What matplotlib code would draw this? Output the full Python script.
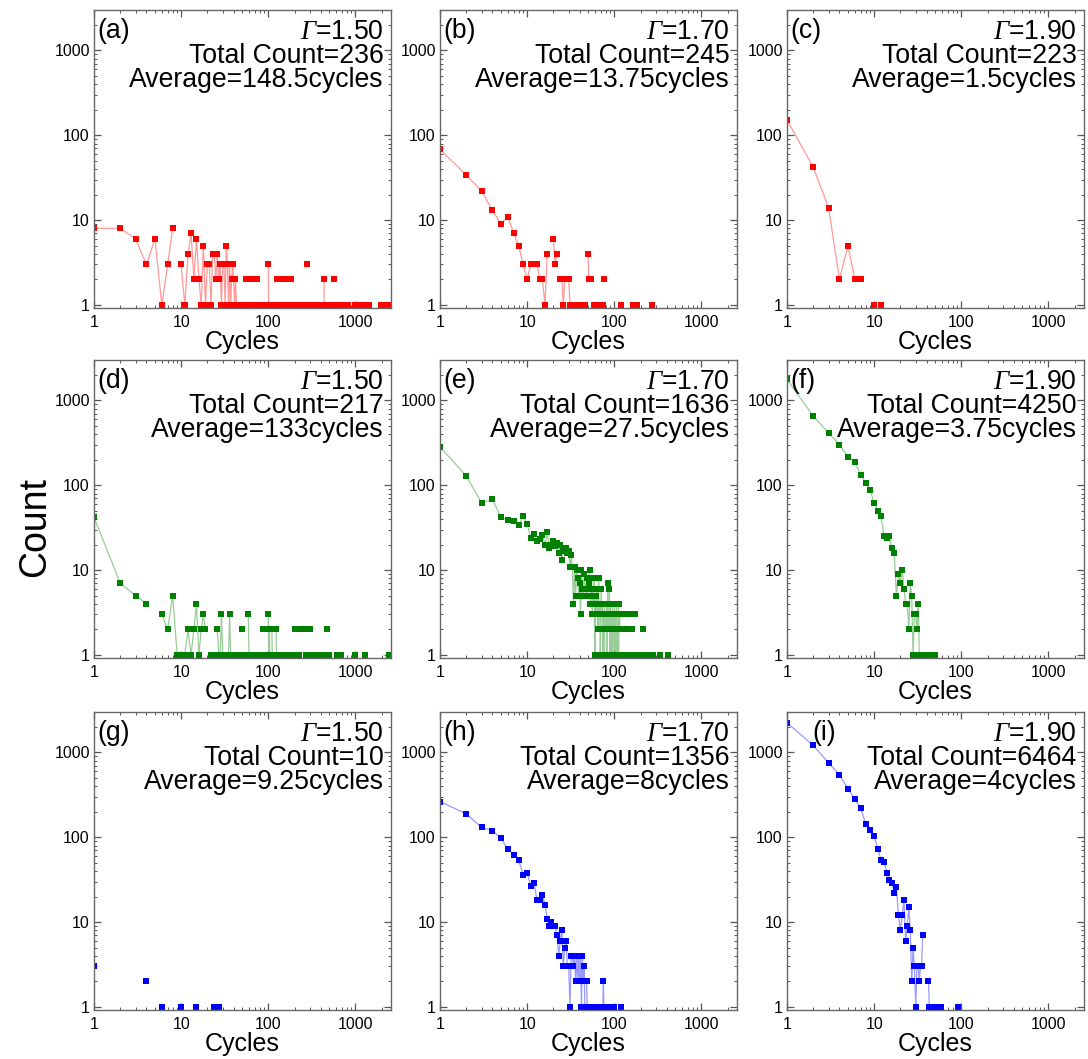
import numpy as np
import matplotlib
matplotlib.use("Agg")
import matplotlib.pyplot as plt
from matplotlib.ticker import LogLocator, FixedLocator, FixedFormatter, NullFormatter

plt.rcParams['font.family'] = ['Liberation Sans', 'DejaVu Sans']
plt.rcParams['mathtext.fontset'] = 'custom'
plt.rcParams['mathtext.rm'] = 'Liberation Sans'
# slanted serif Gamma, taken from the sf slot (the it slot forces capital Greek upright)
plt.rcParams['mathtext.sf'] = 'Liberation Serif:italic'

# cycles -> count, one pair of lists per panel (zero counts left out)
a_x = [1, 2, 3, 4, 5, 6, 7, 8, 10, 11, 12, 13, 14, 15, 16, 17, 18, 19, 20, 21, 22, 23, 24, 25,
       26, 27, 28, 29, 30, 31, 32, 33, 34, 35, 36, 37, 38, 39, 40, 41, 42, 43, 45, 47, 50, 52,
       56, 58, 60, 62, 64, 66, 70, 72, 74, 76, 80, 83, 86, 90, 94, 97, 100, 101, 105, 110, 115,
       120, 125, 130, 135, 140, 150, 160, 165, 170, 180, 190, 200, 210, 220, 235, 250, 265, 278,
       290, 310, 330, 350, 370, 390, 410, 437, 438, 460, 480, 500, 530, 560, 575, 600, 630,
       660, 700, 740, 790, 830, 1000, 1080, 1160, 1230, 1320, 1450, 1950, 2120, 2450]
a_y = [8, 8, 6, 3, 6, 1, 3, 8, 3, 1, 4, 7, 2, 6, 2, 1, 5, 1, 3, 3, 1, 4, 4, 2,
       4, 2, 3, 1, 3, 3, 1, 5, 3, 1, 3, 1, 2, 3, 2, 1, 2, 1, 1, 1, 1, 1,
       2, 1, 2, 1, 2, 1, 2, 1, 2, 1, 1, 1, 1, 1, 1, 1, 3, 1, 1, 1, 1,
       1, 2, 2, 1, 2, 1, 2, 1, 2, 2, 1, 1, 1, 1, 1, 1, 1, 3,
       1, 1, 1, 1, 1, 1, 1, 1, 2, 1, 1, 1, 1, 1, 2, 1, 1,
       1, 1, 1, 1, 1, 1, 1, 1, 1, 1, 1, 1, 1, 1]

b_x = [1, 2, 3, 4, 5, 6, 7, 8, 9, 10, 11, 13, 14, 15, 16, 17, 20, 21, 22, 24, 25, 26, 27, 28,
       29, 30, 31, 32, 33, 34, 35, 36, 37, 38, 40, 41, 42, 44, 46, 50, 51, 52, 54, 58, 60, 62,
       63, 65, 67, 70, 72, 75, 77, 120, 165, 170, 180, 270]
b_y = [68, 34, 22, 13, 9, 11, 7, 5, 3, 2, 3, 3, 2, 2, 1, 4, 6, 3, 4, 2, 2, 1, 2, 2,
       2, 2, 1, 1, 1, 1, 1, 1, 1, 1, 1, 1, 1, 1, 1, 4, 2, 2, 2, 1, 1, 1,
       1, 1, 1, 1, 1, 1, 2, 1, 1, 1, 1, 1]

c_x = [1, 2, 3, 4, 5, 6, 7, 10, 12]
c_y = [152, 42, 14, 2, 5, 2, 2, 1, 1]

d_x = [1, 2, 3, 4, 6, 7, 8, 9, 10, 11, 12, 13, 14, 15, 16, 17, 18, 19, 22, 23, 24, 26, 27, 28,
       29, 30, 31, 32, 33, 34, 35, 36, 37, 38, 40, 42, 44, 46, 50, 52, 55, 59, 60, 62, 65, 68,
       70, 73, 76, 80, 84, 88, 90, 93, 96, 98, 100, 101, 103, 104, 107, 110, 111, 115, 120,
       123, 124, 130, 140, 150, 160, 170, 180, 190, 200, 205, 215, 225, 240, 250, 260, 270,
       280, 290, 300, 310, 330, 350, 370, 390, 420, 470, 500, 620, 650, 680, 990, 1290, 2450]
d_y = [42, 7, 5, 4, 3, 2, 5, 1, 1, 1, 2, 1, 2, 4, 1, 2, 3, 2, 1, 1, 1, 2, 1, 1,
       3, 1, 1, 1, 1, 1, 1, 3, 1, 1, 1, 1, 1, 1, 2, 1, 1, 3, 1, 1, 1, 1,
       1, 1, 1, 1, 1, 2, 1, 2, 1, 2, 3, 1, 2, 1, 1, 2, 1, 1, 1,
       2, 1, 1, 1, 1, 1, 1, 1, 1, 1, 2, 2, 1, 2, 2, 2, 1,
       2, 1, 2, 1, 1, 1, 1, 1, 1, 2, 1, 1, 1, 1, 1, 1, 1]

e_x = [1, 2, 3, 4, 5, 6, 7, 8, 9, 10, 11, 12, 13, 14, 15, 16, 17, 18, 19, 20, 21, 22, 23, 24,
       25, 26, 27, 28, 29, 30, 31, 32, 33, 34, 35, 36, 37, 38, 39, 40, 41, 42, 43, 44, 45, 46,
       47, 48, 49, 50, 51, 52, 53, 54, 55, 56, 57, 58, 59, 60, 61, 62, 63, 64, 65, 66, 67, 68,
       69, 70, 71, 72, 73, 74, 75, 76, 77, 78, 80, 81, 82, 83, 84, 85, 86, 88, 89, 90, 91, 92,
       93, 95, 96, 97, 98, 100, 101, 102, 104, 105, 106, 108, 109, 110, 112, 113, 115, 116,
       118, 120, 122, 124, 126, 128, 130, 132, 135, 138, 140, 142, 145, 148, 150, 152, 155,
       158, 160, 163, 166, 170, 175, 180, 185, 190, 200, 210, 215, 220, 230, 240, 250, 260,
       270, 280, 335, 415]
e_y = [284, 129, 62, 68, 42, 39, 38, 34, 43, 35, 24, 27, 22, 23, 26, 20, 28, 18, 20, 22, 19, 21, 16, 20,
       13, 18, 17, 18, 16, 17, 11, 15, 11, 4, 11, 5, 10, 8, 5, 7, 3, 10, 6, 5, 9, 6,
       5, 8, 5, 6, 7, 10, 4, 5, 8, 3, 6, 4, 8, 1, 5, 3, 6, 4, 2, 8, 3, 4,
       1, 2, 6, 3, 4, 1, 3, 2, 4, 1, 3, 2, 4, 1, 7, 3, 2, 6, 1, 4, 2, 3,
       1, 4, 1, 2, 3, 4, 1, 2, 3, 1, 4, 2, 1, 3, 4, 1, 2, 3,
       1, 3, 1, 2, 3, 1, 2, 1, 3, 1, 2, 1, 3, 1, 2, 1, 3,
       1, 2, 1, 3, 1, 3, 1, 1, 1, 1, 1, 2, 1, 1, 1, 1, 1,
       1, 1, 1, 1]

f_x = [1, 2, 3, 4, 5, 6, 7, 8, 9, 10, 11, 12, 13, 14, 15, 16, 17, 18, 19, 20, 21, 22, 23, 24,
       25, 26, 27, 28, 29, 30, 31, 32, 33, 34, 35, 36, 37, 38, 39, 40, 41, 42, 43, 44, 45, 46,
       48, 50]
f_y = [1770, 653, 415, 302, 216, 187, 134, 107, 87, 62, 50, 43, 25, 24, 25, 18, 16, 5, 9, 7, 10, 6, 4, 4,
       2, 7, 5, 1, 3, 3, 2, 4, 1, 1, 1, 1, 1, 1, 1, 1, 1, 1, 1, 1, 1, 1,
       1, 1]

g_x = [1, 4, 6, 10, 15, 24, 27]
g_y = [3, 2, 1, 1, 1, 1, 1]

h_x = [1, 2, 3, 4, 5, 6, 7, 8, 9, 10, 11, 12, 13, 14, 15, 16, 17, 18, 19, 20, 21, 22, 23, 24,
       25, 26, 27, 28, 29, 30, 31, 32, 33, 34, 35, 36, 37, 38, 39, 40, 41, 42, 43, 44, 45, 46,
       48, 49, 50, 52, 54, 56, 58, 60, 62, 64, 66, 68, 70, 72, 74, 75, 76, 78, 80, 84, 100, 120]
h_y = [264, 189, 131, 120, 97, 73, 62, 54, 36, 38, 27, 29, 18, 18, 21, 16, 11, 9, 10, 9, 9, 7, 4, 6,
       8, 3, 5, 6, 3, 3, 1, 4, 4, 3, 4, 2, 4, 2, 4, 2, 4, 1, 4, 2, 3, 1,
       2, 1, 1, 1, 1, 1, 1, 1, 1, 1, 1, 1, 1, 1, 1, 2, 1, 1, 1, 1, 1, 1]

i_x = [1, 2, 3, 4, 5, 6, 7, 8, 9, 10, 11, 12, 13, 14, 15, 16, 17, 18, 19, 20, 21, 22, 23, 24,
       25, 26, 27, 28, 29, 30, 31, 32, 33, 34, 35, 36, 42, 43, 44, 45, 46, 47, 48, 50, 52, 55,
       58, 92]
i_y = [2240, 1210, 755, 545, 376, 279, 222, 144, 122, 103, 73, 54, 51, 38, 31, 29, 22, 26, 12, 8, 12, 18, 6, 9,
       15, 8, 2, 5, 3, 1, 3, 3, 2, 3, 3, 7, 2, 1, 1, 1, 1, 1, 1, 1, 1, 1,
       1, 1]

series = [(a_x, a_y), (b_x, b_y), (c_x, c_y),
          (d_x, d_y), (e_x, e_y), (f_x, f_y),
          (g_x, g_y), (h_x, h_y), (i_x, i_y)]
panel_tags = ['(a)', '(b)', '(c)', '(d)', '(e)', '(f)', '(g)', '(h)', '(i)']
gammas = ['1.50', '1.70', '1.90'] * 3
total_counts = [236, 245, 223, 217, 1636, 4250, 10, 1356, 6464]
averages = ['148.5', '13.75', '1.5', '133', '27.5', '3.75', '9.25', '8', '4']
row_colors = ['#ff0000', '#008000', '#0000ff']


def split_runs(x, y):
    # break the connecting line wherever a cycle value has no count
    x = np.asarray(x, float)
    y = np.asarray(y, float)
    cut = np.where(np.diff(x) > 1)[0] + 1
    return np.insert(x, cut, np.nan), np.insert(y, cut, np.nan)


W, H = 1088, 1059
fig = plt.figure(figsize=(W / 100, H / 100), dpi=100)

col_left = [94, 440, 787]
row_top = [10, 360, 712]
ax_w, ax_h = 297, 298
txt_size = 19.2

for k, (xs, ys) in enumerate(series):
    r, c = divmod(k, 3)
    ax = fig.add_axes([col_left[c] / W, 1 - (row_top[r] + ax_h) / H, ax_w / W, ax_h / H])
    col = row_colors[r]

    lx, ly = split_runs(xs, ys)
    ax.plot(lx, ly, '-', color=col, lw=0.9, alpha=0.4)
    ax.plot(xs, ys, 's', color=col, ms=4.6, mec=col, mew=0)

    ax.set_xscale('log')
    ax.set_yscale('log')
    ax.set_xlim(1, 2560)
    ax.set_ylim(0.92, 3000)

    major = [1, 10, 100, 1000]
    for axis in (ax.xaxis, ax.yaxis):
        axis.set_major_locator(FixedLocator(major))
        axis.set_major_formatter(FixedFormatter([str(m) for m in major]))
        axis.set_minor_locator(LogLocator(base=10, subs=np.arange(2, 10)))
        axis.set_minor_formatter(NullFormatter())

    ax.tick_params(which='both', direction='in', top=True, right=True,
                   color='#555555', labelsize=11.5)
    ax.tick_params(which='major', length=5, width=0.9)
    ax.tick_params(which='minor', length=2.5, width=0.7)
    ax.tick_params(axis='x', pad=5)
    ax.tick_params(axis='y', pad=3)
    for sp in ax.spines.values():
        sp.set_color('#666666')
        sp.set_linewidth(1.0)

    ax.set_xlabel('Cycles', fontsize=18, labelpad=0)

    tag_x = 0.085 if k == 8 else 0.012
    ax.text(tag_x, 0.905, panel_tags[k], transform=ax.transAxes, fontsize=txt_size,
            ha='left', va='baseline')
    ax.text(0.975, 0.902, r'$\mathsf{\Gamma}$=' + gammas[k], transform=ax.transAxes,
            fontsize=txt_size, ha='right', va='baseline')
    ax.text(0.975, 0.821, 'Total Count=%d' % total_counts[k], transform=ax.transAxes,
            fontsize=txt_size, ha='right', va='baseline')
    ax.text(0.975, 0.741, 'Average=%scycles' % averages[k], transform=ax.transAxes,
            fontsize=txt_size, ha='right', va='baseline')

fig.text(35 / W, 1 - 527 / H, 'Count', rotation=90, fontsize=27,
         ha='center', va='center')

fig.savefig('out.png', dpi=100)
